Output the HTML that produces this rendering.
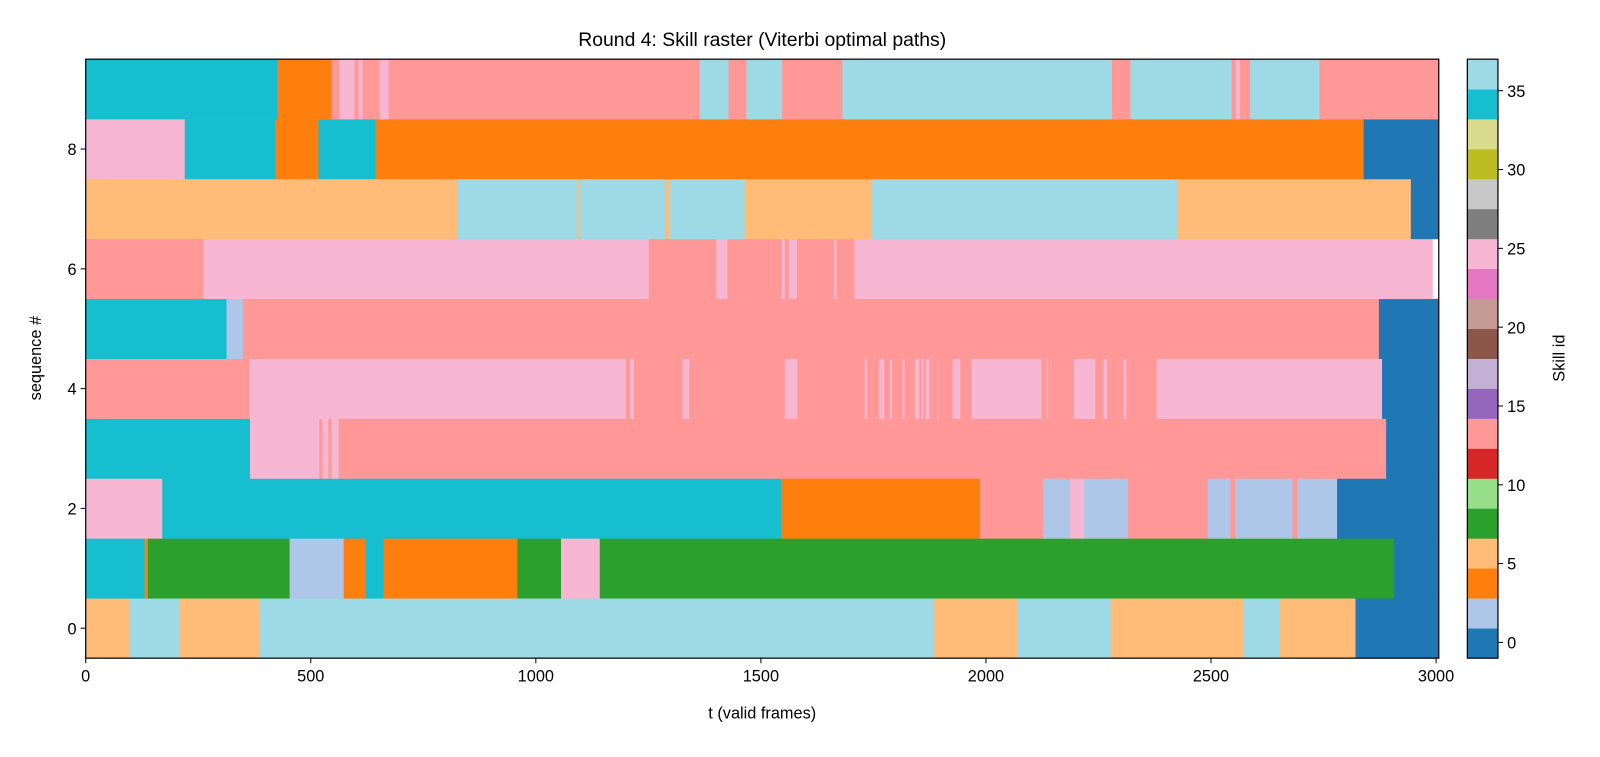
<!DOCTYPE html>
<html><head><meta charset="utf-8"><style>
body{margin:0;background:#fff;font-family:"Liberation Sans",sans-serif;}
svg text{font-family:"Liberation Sans",sans-serif;fill:#000;}
</style></head><body>
<svg id="chart" width="1600" height="752" xmlns="http://www.w3.org/2000/svg">
<g transform="scale(1.0204)">
<text x="747" y="45" font-size="19" text-anchor="middle">Round 4: Skill raster (Viterbi optimal paths)</text>
<g id="rows"></g>
<rect x="84" y="58" width="1326" height="587" fill="none" stroke="#000" stroke-width="1.2"/>
<g id="xaxis"></g>
<g id="yaxis"></g>
<text x="747" y="704" font-size="16" text-anchor="middle">t (valid frames)</text>
<text x="40" y="351" font-size="16" text-anchor="middle" transform="rotate(-90 40 351)">sequence #</text>
<g id="cbar"></g>
<text x="1533" y="351" font-size="16" text-anchor="middle" transform="rotate(-90 1533 351)">Skill id</text>
</g>
</svg>
<script>
const rowBounds = [
 [0,97,208,385,1885,2069,2277,2572,2651,2821,3006],
 [0,131,138,453,573,621,662,959,1056,1142,2907,3006],
 [0,170,1545,1987,2128,2187,2218,2316,2493,2543,2554,2681,2692,2780,3006],
 [0,365,519,526,539,546,562,2889,3006],
 [0,363,1200,1209,1218,1326,1341,1553,1581,1731,1736,1762,1774,1786,1791,1815,1819,1842,1852,1857,1861,1866,1874,1892,1894,1926,1943,1968,2123,2135,2138,2144,2145,2195,2243,2261,2269,2306,2312,2379,2880,3006],
 [0,313,349,2873,3006],
 [0,261,1251,1401,1426,1546,1553,1562,1580,1663,1668,1708,2992],
 [0,827,1092,1097,1287,1296,1464,1747,2425,2944,3006],
 [0,220,421,517,644,2839,3006],
 [0,426,546,563,597,606,615,653,673,1364,1428,1468,1547,1681,2280,2321,2546,2555,2564,2587,2741,3006]
];
const row4Ids = [13];
for(let i=1;i<rowBounds[4].length-2;i++) row4Ids.push(i%2===1?25:13);
row4Ids.push(0);
const rowIds = [
 [6,36,6,36,6,36,6,36,6,0],
 [34,4,8,2,4,34,4,8,25,8,0],
 [25,34,4,13,2,25,2,13,2,13,2,13,2,0],
 [34,25,13,25,13,25,13,0],
 row4Ids,
 [34,2,13,0],
 [13,25,13,25,13,25,13,25,13,25,13,25],
 [6,36,6,36,6,36,6,36,6,0],
 [25,34,4,34,4,0],
 [34,4,13,25,13,25,13,25,13,36,13,36,13,36,13,36,13,25,13,36,13]
];
const xTicks = [0,500,1000,1500,2000,2500,3000];
const yTicks = [0,2,4,6,8];
const cbTicks = [0,5,10,15,20,25,30,35];
const tab20 = ["#1f77b4","#aec7e8","#ff7f0e","#ffbb78","#2ca02c","#98df8a","#d62728","#ff9896","#9467bd","#c5b0d5","#8c564b","#c49c94","#e377c2","#f7b6d2","#7f7f7f","#c7c7c7","#bcbd22","#dbdb8d","#17becf","#9edae5"];
const NS="http://www.w3.org/2000/svg";
const X0=84,X1=1410,Y0=58,Y1=645, XMAX=3006;
const xs=f=>X0+f/XMAX*(X1-X0);
const ys=v=>Y1-(v+0.5)/10*(Y1-Y0);
const col=id=>tab20[Math.min(19,Math.max(0,Math.floor((id+1)/1.9)))];
function mk(t,a,p){const e=document.createElementNS(NS,t);for(const k in a)e.setAttribute(k,a[k]);p.appendChild(e);return e;}
const rows=document.getElementById('rows');
rowBounds.forEach((b,r)=>{
 for(let i=0;i<b.length-1;i++){
  const x=xs(b[i]),w=xs(b[i+1])-x;
  const e=mk('rect',{x:x,y:ys(r+0.5),width:w+0.3,height:(Y1-Y0)/10+0.3,fill:col(rowIds[r][i])},rows);
  
  
 }
});
const xa=document.getElementById('xaxis');
xTicks.forEach(v=>{
 const x=xs(v);
 const l=mk('line',{x1:x,x2:x,y1:Y1,y2:Y1+5,stroke:'#000'},xa);
 
 
 const t=mk('text',{x:x,y:Y1+23,'font-size':16,'text-anchor':'middle'},xa);
 t.textContent=v;
 
 
});
const ya=document.getElementById('yaxis');
yTicks.forEach(v=>{
 const y=ys(v);
 const l=mk('line',{x1:X0-5,x2:X0,y1:y,y2:y,stroke:'#000'},ya);
 
 
 const t=mk('text',{x:X0-9,y:y+6,'font-size':16,'text-anchor':'end'},ya);
 t.textContent=v;
 
 
});
const cb=document.getElementById('cbar');
const CX=1438,CW=30;
const cy=v=>Y1-(v+1)/38*(Y1-Y0);
tab20.forEach((c,k)=>{
 const a=-1+1.9*k,b=a+1.9;
 const e=mk('rect',{x:CX,y:cy(b),width:CW,height:cy(a)-cy(b)+0.3,fill:c},cb);
 
 
});
mk('rect',{x:CX,y:Y0,width:CW,height:Y1-Y0,fill:'none',stroke:'#000','stroke-width':1.2},cb);
cbTicks.forEach(v=>{
 const y=cy(v);
 const l=mk('line',{x1:CX+CW,x2:CX+CW+5,y1:y,y2:y,stroke:'#000'},cb);
 
 
 const t=mk('text',{x:CX+CW+9,y:y+6,'font-size':16},cb);
 t.textContent=v;
 
 
});
</script>
</body></html>
